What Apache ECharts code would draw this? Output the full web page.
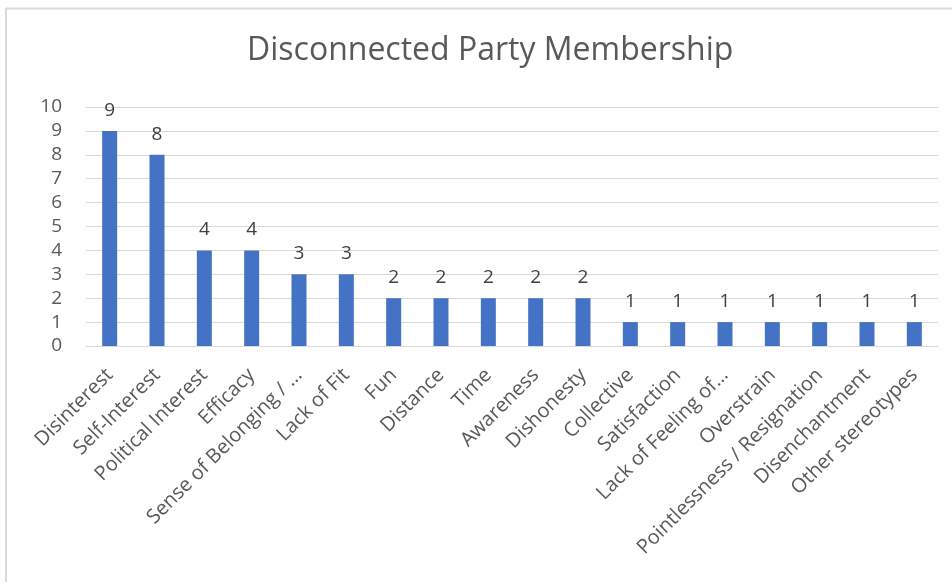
<!DOCTYPE html>
<html>
<head>
<meta charset="utf-8">
<script src="https://cdn.jsdelivr.net/npm/echarts@6/dist/echarts.min.js"></script>
<style>html,body{margin:0;padding:0;background:#fff;}#c{width:952px;height:582px;}</style>
</head>
<body>
<div id="c"></div>
<script>
const categories = ["Disinterest","Self-Interest","Political Interest","Efficacy","Sense of Belonging / …","Lack of Fit","Fun","Distance","Time","Awareness","Dishonesty","Collective","Satisfaction","Lack of Feeling of…","Overstrain","Pointlessness / Resignation","Disenchantment","Other stereotypes"];
const counts = [9,8,4,4,3,3,2,2,2,2,2,1,1,1,1,1,1,1];
const yTicks = [0,10,1];
const chartTitle = "Disconnected Party Membership";

const FONT = "'Open Sans', 'Noto Sans', sans-serif";
const chart = echarts.init(document.getElementById('c'));
chart.setOption({
  animation: false,
  backgroundColor: '#ffffff',
  title: {
    text: chartTitle,
    left: 242,
    top: 30,
    textStyle: {fontFamily: FONT, fontSize: 32, fontWeight: 'normal', color: '#595959'}
  },
  graphic: [
    {type: 'line', shape: {x1: 6, y1: 8.5, x2: 952, y2: 8.5}, style: {stroke: '#d9d9d9', lineWidth: 2}},
    {type: 'line', shape: {x1: 6, y1: 8, x2: 6, y2: 582}, style: {stroke: '#d9d9d9', lineWidth: 2}}
  ],
  grid: {left: 86, right: 14, top: 107, bottom: 236, containLabel: false},
  xAxis: {
    type: 'category',
    data: categories,
    axisLine: {lineStyle: {color: '#d9d9d9', width: 1}},
    axisTick: {show: false},
    axisLabel: {rotate: 45, interval: 0, fontFamily: FONT, fontSize: 20, color: '#595959', margin: 26}
  },
  yAxis: {
    type: 'value',
    min: yTicks[0], max: yTicks[1], interval: yTicks[2],
    axisLine: {show: false},
    axisTick: {show: false},
    splitLine: {lineStyle: {color: '#d9d9d9', width: 1}},
    axisLabel: {fontFamily: FONT, fontSize: 19, color: '#595959', margin: 24}
  },
  series: [{
    type: 'bar',
    data: counts,
    barWidth: 15,
    itemStyle: {color: '#4472C4'},
    label: {show: true, position: 'top', distance: 11, fontFamily: FONT, fontSize: 19, color: '#404040'}
  }]
});
</script>
</body>
</html>
